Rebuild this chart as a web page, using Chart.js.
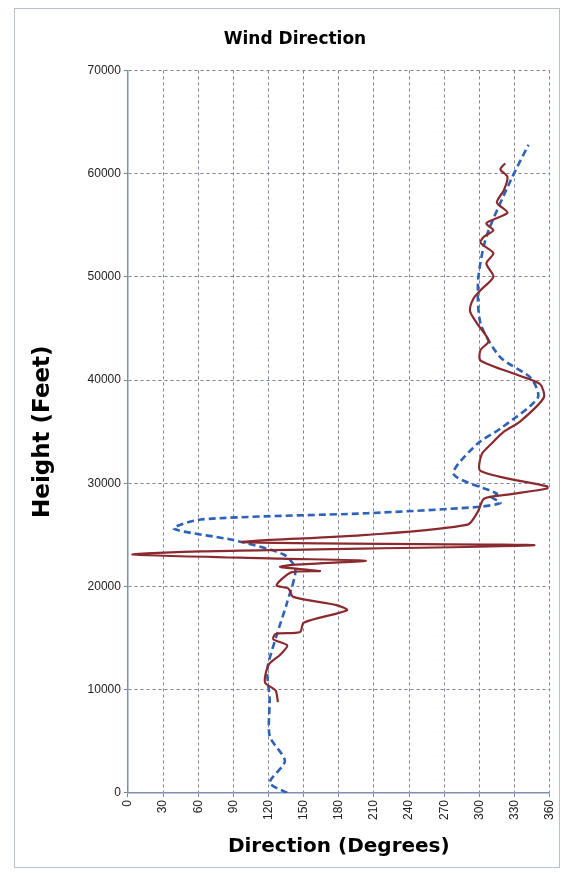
<!DOCTYPE html>
<html><head><meta charset="utf-8">
<script src="https://cdn.jsdelivr.net/npm/chart.js@4.4.0/dist/chart.umd.min.js"></script>
<style>
html,body{margin:0;padding:0;background:#fff;overflow:hidden;}
#wrap{position:absolute;left:14px;top:8px;width:546px;height:860px;border:1px solid #b8c0cc;box-sizing:border-box;}
canvas{display:block;position:absolute;left:0;top:0;}
</style></head><body>
<div id="wrap"><canvas id="c" width="552" height="858"></canvas></div>
<script>
const xTicks = [0,30,60,90,120,150,180,210,240,270,300,330,360];
const yTicks = [0,10000,20000,30000,40000,50000,60000,70000];
const observedDir = [128,126,117,120,130,136,124,126,147,150,187,178,141,137,127,131,140,164,130,141,203,130,4,62,347,98,204,290,299,304,324,358,358,301,302,310,321,335,355,352,335,301,301,308,298,292,295,301,312,306,312,301,304,312,306,324,315,321,324,318,322];
const observedHt = [8800,9930,10700,12400,13400,14300,14900,15400,15600,16500,17700,18200,19000,19800,20100,20700,21400,21500,21900,22100,22500,22700,23100,23400,24000,24300,25000,26000,27300,28500,28900,29500,29700,31200,32800,33800,35000,36000,38300,39600,40400,41900,42900,43800,45500,46700,47900,48700,50000,51300,52300,53300,53900,54500,55200,56200,57200,58400,59700,60400,61000];
const modelDir = [136,121,134,121,121,119,127,136,143,133,90,39,62,204,298,318,310,315,278,298,318,350,344,318,301,299,306,327,342];
const modelHt = [0,1000,3100,5500,9100,12000,15300,18500,21700,23100,24500,25600,26500,27100,27700,28100,28700,29000,30900,33800,35300,38300,40200,42200,45500,49700,53900,59400,62800];
const pts = (xs,ys)=>xs.map((x,i)=>({x:x,y:ys[i]}));
new Chart(document.getElementById('c'),{
  type:'scatter',
  data:{datasets:[
    {data:pts(observedDir,observedHt),showLine:true,borderColor:'#8b2a2e',borderWidth:2.2,pointRadius:0,tension:0.25,fill:false},
    {data:pts(modelDir,modelHt),showLine:true,borderColor:'#2e62b8',borderWidth:2.6,borderDash:[7,4],pointRadius:0,tension:0.25,fill:false}
  ]},
  options:{
    responsive:false,animation:false,devicePixelRatio:1,
    layout:{padding:{left:10,right:2,top:8,bottom:4}},
    plugins:{legend:{display:false},tooltip:{enabled:false},
      title:{display:true,text:'Wind Direction',font:{family:'"DejaVu Sans"',size:17,weight:'bold'},color:'#000',padding:{top:12,bottom:21}}},
    scales:{
      x:{type:'linear',min:0,max:360,
        afterBuildTicks:a=>{a.ticks=xTicks.map(v=>({value:v}));},
        ticks:{maxRotation:90,minRotation:90,font:{family:'"Liberation Sans", Arial',size:12},color:'#222'},
        grid:{color:'#7a80a0',tickLength:4},
        border:{color:'#8090b0',width:1.5,dash:[3,3]},
        title:{display:true,text:'Direction (Degrees)',font:{family:'"DejaVu Sans"',size:20,weight:'bold'},color:'#000',padding:{top:12}}},
      y:{type:'linear',min:0,max:70000,
        afterBuildTicks:a=>{a.ticks=yTicks.map(v=>({value:v}));},
        ticks:{callback:v=>String(v),font:{family:'"Liberation Sans", Arial',size:12},color:'#222'},
        grid:{color:'#7a80a0',tickLength:4},
        border:{color:'#8090b0',width:1.5,dash:[3,3]},
        title:{display:true,text:'Height (Feet)',font:{family:'"DejaVu Sans"',size:23,weight:'bold'},color:'#000',padding:{bottom:28}}}
    }
  }
});
</script>
</body></html>
